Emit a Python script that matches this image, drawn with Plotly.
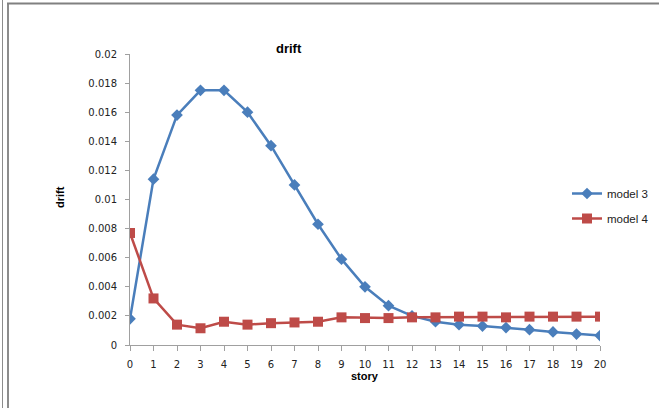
import plotly.graph_objects as go

stories = list(range(0, 21))
model3 = [0.0018, 0.0114, 0.0158, 0.0175, 0.0175, 0.0160, 0.0137, 0.0110, 0.0083, 0.0059,
          0.0040, 0.0027, 0.0020, 0.0016, 0.0014, 0.0013, 0.0012, 0.00105, 0.0009, 0.00075, 0.00065]
model4 = [0.0077, 0.0032, 0.0014, 0.00115, 0.0016, 0.0014, 0.0015, 0.00155, 0.0016, 0.0019,
          0.00185, 0.00185, 0.0019, 0.0019, 0.00195, 0.00195, 0.0019, 0.00195, 0.00195, 0.00195, 0.00195]
y_ticks = [0, 0.002, 0.004, 0.006, 0.008, 0.01, 0.012, 0.014, 0.016, 0.018, 0.02]
y_ticktext = ["0", "0.002", "0.004", "0.006", "0.008", "0.01", "0.012", "0.014", "0.016", "0.018", "0.02"]

W, H = 659, 408
L, R, T, B = 130, 59, 54, 63
PW, PH = W - L - R, H - T - B

def px(x):
    return (x - L) / PW

def py(y):
    return (H - B - y) / PH

fig = go.Figure()
fig.add_trace(go.Scatter(x=stories, y=model3, name="model 3", mode="lines+markers",
                         legendgroup="a",
                         line=dict(color="#4A7EBB", width=2.5),
                         marker=dict(symbol="diamond", size=9, color="#4A7EBB")))
fig.add_trace(go.Scatter(x=stories, y=model4, name="model 4", mode="lines+markers",
                         legendgroup="b",
                         line=dict(color="#BE4B48", width=2.5),
                         marker=dict(symbol="square", size=10, color="#BE4B48")))

fig.update_layout(
    width=W, height=H,
    margin=dict(l=L, r=R, t=T, b=B, autoexpand=False),
    paper_bgcolor="white", plot_bgcolor="white",
    showlegend=True,
    legend=dict(x=px(567), y=py(206), xanchor="left", yanchor="middle",
                font=dict(family="Liberation Sans", size=11.5, color="#222"),
                tracegroupgap=6, itemwidth=30, bgcolor="rgba(0,0,0,0)"),
    xaxis=dict(range=[0, 20], tickmode="array", tickvals=stories,
               showgrid=False, zeroline=False, showline=True, linecolor="#A0A0A0", linewidth=1,
               ticks="outside", ticklen=5, tickcolor="#A0A0A0", ticklabelstandoff=5,
               tickfont=dict(family="DejaVu Sans", size=10, color="#222")),
    yaxis=dict(range=[0, 0.02], tickmode="array", tickvals=y_ticks, ticktext=y_ticktext,
               showgrid=False, zeroline=False, showline=True, linecolor="#A0A0A0", linewidth=1,
               ticks="outside", ticklen=4, tickcolor="#A0A0A0", ticklabelstandoff=6,
               tickfont=dict(family="DejaVu Sans", size=10, color="#222")),
    annotations=[
        dict(text="<b>drift</b>", x=px(274), y=py(39), xref="paper", yref="paper",
             showarrow=False, font=dict(family="Liberation Sans", size=13, color="#000")),
        dict(text="<b>drift</b>", x=px(52), y=py(197), xref="paper", yref="paper",
             showarrow=False, textangle=-90, font=dict(family="Liberation Sans", size=11, color="#000")),
        dict(text="<b>story</b>", x=px(365), y=py(384), xref="paper", yref="paper",
             showarrow=False, font=dict(family="Liberation Sans", size=11, color="#000")),
    ],
    shapes=[
        dict(type="line", xref="paper", yref="paper", x0=px(2.5), x1=px(2.5), y0=py(0), y1=py(408),
             line=dict(color="#8C8C8C", width=1)),
        dict(type="line", xref="paper", yref="paper", x0=px(8), x1=px(8), y0=py(3), y1=py(408),
             line=dict(color="#8C8C8C", width=2)),
        dict(type="line", xref="paper", yref="paper", x0=px(7), x1=px(659), y0=py(3.5), y1=py(3.5),
             line=dict(color="#808080", width=2)),
    ],
)

fig.write_html("out.html")
